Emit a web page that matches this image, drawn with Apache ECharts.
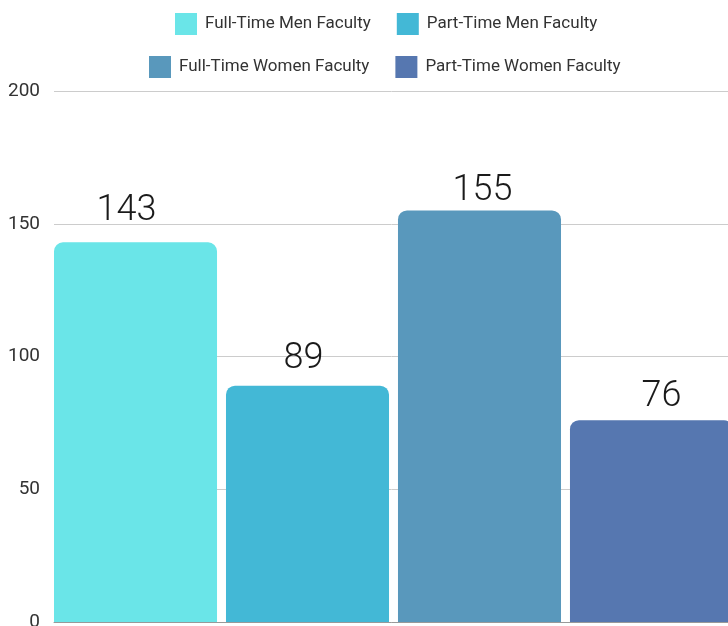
<!DOCTYPE html>
<html>
<head>
<meta charset="utf-8">
<script src="https://cdn.jsdelivr.net/npm/echarts@6/dist/echarts.min.js"></script>
<style>
  html, body { margin: 0; padding: 0; background: #fff; }
  #chart { width: 728px; height: 626px; }
</style>
</head>
<body>
<div id="chart"></div>
<script>
const categories = ["Faculty"];
const seriesNames = [
  "Full-Time Men Faculty",
  "Part-Time Men Faculty",
  "Full-Time Women Faculty",
  "Part-Time Women Faculty"
];
const seriesValues = [143, 89, 155, 76];
const seriesColors = ["#6ae5e8", "#43b8d6", "#5998bc", "#5677b0"];
const yTicks = { min: 0, max: 200, interval: 50 };

// label placement tweaks, the source chart doesn't center them exactly
const labelDistance = [13, 9, 1, 5];
const labelShiftX = [-9, -4, 3, 10];

const fontFamily = "Roboto, 'Noto Sans', sans-serif";

const series = seriesNames.map((name, i) => ({
  name: name,
  type: "bar",
  data: [seriesValues[i]],
  barGap: "5.5%",
  barCategoryGap: "0%",
  itemStyle: { color: seriesColors[i], borderRadius: [9, 9, 0, 0] },
  label: {
    show: true,
    position: "top",
    distance: labelDistance[i],
    offset: [labelShiftX[i], 0],
    fontFamily: fontFamily,
    fontSize: 36,
    fontWeight: 300,
    color: "#1a1a1a"
  }
}));

const legendText = { fontFamily: fontFamily, fontSize: 17, color: "#333", padding: [0, 0, 0, 3] };

const chart = echarts.init(document.getElementById("chart"));
chart.setOption({
  animation: false,
  legend: [
    {
      data: seriesNames.slice(0, 2),
      left: 170,
      top: 8,
      itemWidth: 22,
      itemHeight: 22,
      itemGap: 26,
      icon: "rect",
      textStyle: legendText
    },
    {
      data: seriesNames.slice(2),
      left: 144,
      top: 51,
      itemWidth: 22,
      itemHeight: 22,
      itemGap: 26,
      icon: "rect",
      textStyle: legendText
    }
  ],
  grid: { left: 54, right: -5, top: 91, bottom: 4, outerBoundsMode: "none", containLabel: false },
  xAxis: {
    type: "category",
    data: categories,
    axisLabel: { show: false },
    axisTick: { show: false },
    axisLine: { show: true, lineStyle: { color: "#999" } }
  },
  yAxis: {
    type: "value",
    min: yTicks.min,
    max: yTicks.max,
    interval: yTicks.interval,
    axisLabel: { fontFamily: fontFamily, fontSize: 19, color: "#333", margin: 14 },
    axisLine: { show: false },
    axisTick: { show: false },
    splitLine: { lineStyle: { color: "#cccccc" } }
  },
  series: series
});
</script>
</body>
</html>
